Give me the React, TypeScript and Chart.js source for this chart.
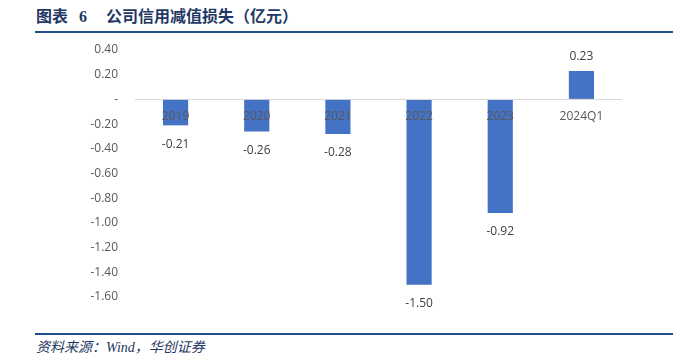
import React, { useEffect, useRef } from "react";
import { Chart, registerables } from "chart.js";

Chart.register(...registerables);

const categories: string[] = ["2019", "2020", "2021", "2022", "2023", "2024Q1"];
const values: number[] = [-0.21, -0.26, -0.28, -1.5, -0.92, 0.23];
const yMin = -1.6;
const yMax = 0.4;
const yStep = 0.2;

const labelPlugin = {
  id: "customLabels",
  afterDatasetsDraw(chart: any) {
    const ctx = chart.ctx;
    const x = chart.scales.x;
    const y = chart.scales.y;
    const zero = y.getPixelForValue(0);
    ctx.save();
    ctx.font = "12px 'Open Sans', 'Noto Sans', sans-serif";
    ctx.textAlign = "center";
    ctx.textBaseline = "middle";
    ctx.fillStyle = "#595959";
    categories.forEach((c, i) => {
      ctx.fillText(c, x.getPixelForValue(i), zero + 17);
    });
    ctx.fillStyle = "#404040";
    values.forEach((v, i) => {
      const px = x.getPixelForValue(i);
      const py = y.getPixelForValue(v);
      const ty = v < 0 ? py + 19 : py - 14;
      ctx.fillText(v.toFixed(2), px, ty);
    });
    ctx.restore();
  },
};

export default function App() {
  const ref = useRef<HTMLCanvasElement | null>(null);
  useEffect(() => {
    if (!ref.current) return;
    const chart = new Chart(ref.current, {
      type: "bar",
      data: {
        labels: categories,
        datasets: [
          {
            data: values,
            backgroundColor: "#4472C4",
            barPercentage: 0.62,
            categoryPercentage: 0.5,
          },
        ],
      },
      options: {
        animation: false,
        responsive: false,
        maintainAspectRatio: false,
        layout: { padding: { left: 0, right: 51, top: 50, bottom: 66 } },
        plugins: { legend: { display: false }, tooltip: { enabled: false } },
        scales: {
          x: { display: false },
          y: {
            min: yMin,
            max: yMax,
            border: { display: false },
            grid: {
              drawTicks: false,
              color: (c: any) => (c.tick && Math.abs(c.tick.value) < 1e-9 ? "#d9d9d9" : "rgba(0,0,0,0)"),
              lineWidth: 1,
            },
            ticks: {
              stepSize: yStep,
              padding: 17,
              color: "#595959",
              font: { size: 12, family: "'Open Sans', 'Noto Sans', sans-serif" },
              callback: (v: any) => (Math.abs(Number(v)) < 1e-9 ? "-" : Number(v).toFixed(2)),
            },
            afterFit: (s: any) => {
              s.width = 135;
            },
          },
        },
      },
      plugins: [labelPlugin],
    });
    return () => chart.destroy();
  }, []);

  const navy = "#1f3864";
  return (
    <div style={{ position: "absolute", left: 0, top: 0, width: 673, height: 363, background: "#fff", overflow: "hidden" }}>
      <div
        style={{
          position: "absolute",
          left: 36,
          top: 7,
          fontSize: 16,
          fontWeight: "bold",
          color: navy,
          fontFamily: "'Liberation Serif', 'Noto Sans CJK SC', serif",
          whiteSpace: "nowrap",
          lineHeight: "20px",
        }}
      >
        <span>图表</span>
        <span style={{ marginLeft: 11 }}>6</span>
        <span style={{ marginLeft: 19 }}>公司信用减值损失（亿元）</span>
      </div>
      <div style={{ position: "absolute", left: 35, top: 31, width: 638, height: 2, background: "#1f4e8c" }} />
      <div style={{ position: "absolute", left: 35, top: 333, width: 638, height: 2, background: "#1f4e8c" }} />
      <div
        style={{
          position: "absolute",
          left: 36,
          top: 338,
          fontSize: 14,
          fontStyle: "italic",
          color: navy,
          fontFamily: "'Liberation Serif', 'Noto Sans CJK SC', serif",
          whiteSpace: "nowrap",
          lineHeight: "20px",
        }}
      >
        资料来源：Wind，华创证券
      </div>
      <canvas ref={ref} width={673} height={363} style={{ position: "absolute", left: 0, top: 0, width: 673, height: 363 }} />
    </div>
  );
}
